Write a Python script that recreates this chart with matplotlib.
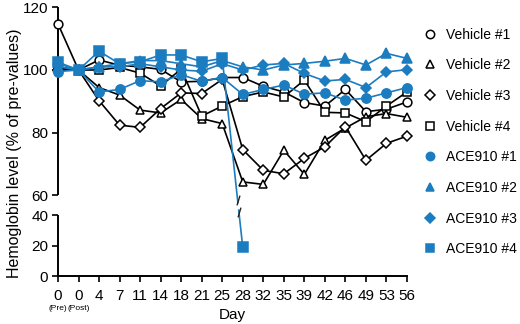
import numpy as np
import matplotlib
matplotlib.use("Agg")
import matplotlib.pyplot as plt
from matplotlib.legend_handler import HandlerLine2D

plt.rcParams['font.family'] = ['Liberation Sans', 'DejaVu Sans']

# ---- data ----
day_labels = ["0", "0", "4", "7", "11", "14", "18", "21", "25", "28",
              "32", "35", "39", "42", "46", "49", "53", "56"]
sub_labels = ["(Pre)", "(Post)"]

vehicle1 = [114.7, 100, 103.2, 101.5, 101.0, 100.2, 96.2, 96.4, 97.6, 97.6,
            94.8, 93.0, 89.6, 88.5, 93.8, 86.7, 87.5, 89.8]
vehicle2 = [101.0, 100, 94.4, 92.0, 87.2, 86.3, 90.6, 84.5, 82.9, 64.3,
            63.5, 74.4, 66.7, 77.6, 81.5, 85.1, 86.1, 84.9]
vehicle3 = [100.0, 100, 90.2, 82.4, 81.7, 87.7, 92.7, 92.5, 97.0, 74.6,
            68.0, 66.9, 71.8, 75.5, 81.9, 71.2, 76.6, 78.9]
vehicle4 = [100.5, 100, 100.0, 100.8, 99.0, 94.9, 100.3, 85.3, 88.5, 91.5,
            93.0, 91.4, 96.8, 86.5, 86.3, 83.5, 88.5, 93.0]
ace1 = [99.5, 100, 93.0, 93.8, 96.6, 96.2, 98.5, 96.4, 97.6, 92.2,
        93.8, 95.2, 92.3, 92.7, 90.4, 91.0, 92.7, 94.4]
ace2 = [101.0, 100, 101.0, 102.0, 103.0, 103.0, 102.0, 101.0, 103.0, 101.0,
        100.0, 101.6, 102.1, 102.8, 103.7, 101.6, 105.3, 103.7]
ace3 = [102.0, 100, 101.0, 101.0, 102.0, 101.0, 100.0, 99.6, 102.0, 100.0,
        101.6, 102.1, 98.9, 96.5, 97.0, 94.4, 99.4, 100.1]
ace4 = [102.5, 100, 106.0, 102.0, 102.6, 104.8, 104.8, 102.6, 103.7, 18.8]

series_labels = ["Vehicle #1", "Vehicle #2", "Vehicle #3", "Vehicle #4",
                 "ACE910 #1", "ACE910 #2", "ACE910 #3", "ACE910 #4"]

BLUE = '#1c7cc0'

# ---- broken y scale (0-40 lower, 60-120 upper) ----
LOW_K = 1.525
GAP = 20.0
UP_K = 3.15
B0 = 40 * LOW_K
B1 = B0 + GAP


def fwd(y):
    y = np.asarray(y, dtype=float)
    return np.where(y <= 40, y * LOW_K,
                    np.where(y < 60, B0 + (y - 40) * (GAP / 20.0),
                             B1 + (y - 60) * UP_K))


def inv(v):
    v = np.asarray(v, dtype=float)
    return np.where(v <= B0, v / LOW_K,
                    np.where(v < B1, 40 + (v - B0) * (20.0 / GAP),
                             60 + (v - B1) / UP_K))


fig = plt.figure(figsize=(5.2, 3.24), dpi=100)
ax = fig.add_axes([58 / 520, 48 / 324, (407 - 58) / 520, (276 - 7.3) / 324])
ax.set_yscale('function', functions=(fwd, inv))
ax.set_ylim(0, 120)
ax.set_xlim(0, len(day_labels) - 1)

x = np.arange(len(day_labels))
ms = 6.3
common = dict(lw=1.2, clip_on=False, markeredgewidth=1.1)

vstyles = [('o', vehicle1), ('^', vehicle2), ('D', vehicle3), ('s', vehicle4)]
for (m, data), lab in zip(vstyles, series_labels[:4]):
    size = ms - 1.2 if m == 'D' else ms
    ax.plot(x[:len(data)], data, color='black', marker=m, markersize=size,
            markerfacecolor='white', markeredgecolor='black', label=lab, zorder=3,
            **common)

astyles = [('o', ace1), ('^', ace2), ('D', ace3), ('s', ace4)]
for (m, data), lab in zip(astyles, series_labels[4:]):
    size = ms - 1.2 if m == 'D' else ms + 0.4
    ax.plot(x[:len(data)], data, color=BLUE, marker=m, markersize=size,
            markerfacecolor=BLUE, markeredgecolor=BLUE, label=lab, zorder=4,
            **common)

# break mark on ACE910 #4 drop line
i0 = len(ace4) - 2
s0, s1 = float(fwd(ace4[i0])), float(fwd(ace4[i0 + 1]))


def pt_at(yval):
    t = (s0 - float(fwd(yval))) / (s0 - s1)
    return i0 + t, yval


ga = pt_at(52.0)
gb = pt_at(46.0)
ax.plot([ga[0], gb[0]], [ga[1], gb[1]], color='white', lw=3, zorder=5,
        solid_capstyle='butt')
slash = [(-0.3, -1), (0.3, 1)]
for p in (pt_at(55.0), pt_at(43.0)):
    ax.plot([p[0]], [p[1]], marker=slash, markersize=7, color='#222222',
            markeredgewidth=1.0, linestyle='none', zorder=6)

# axes styling
for sp in ['top', 'right', 'left']:
    ax.spines[sp].set_visible(False)
ax.spines['bottom'].set_linewidth(1.4)
ytr = ax.get_yaxis_transform()
ax.plot([0, 0], [0, 40], transform=ytr, color='black', lw=1.4, clip_on=False,
        solid_capstyle='butt', zorder=2)
ax.plot([0, 0], [60, 120], transform=ytr, color='black', lw=1.4, clip_on=False,
        solid_capstyle='butt', zorder=2)

ax.set_yticks([0, 20, 40, 60, 80, 100, 120])
ax.set_yticklabels(["0", "20", "40", "60", "80", "100", "120"])
ax.set_xticks(x)
ax.set_xticklabels(day_labels)
ax.tick_params(axis='both', direction='out', length=4, width=1.2,
               labelsize=11, colors='black', pad=3)
ax.tick_params(axis='x', pad=5)
ax.minorticks_off()

for i, s in enumerate(sub_labels):
    ax.annotate(s, xy=(i, 0), xycoords=('data', 'axes fraction'),
                xytext=(0, -23.5), textcoords='offset points',
                ha='center', va='center', fontsize=6)

ax.set_xlabel("Day", fontsize=11)
ax.xaxis.set_label_coords(0.5, -0.118)
ax.set_ylabel("Hemoglobin level (% of pre-values)", fontsize=11.5)
ax.yaxis.set_label_coords(-0.103, 0.457)


def leg_update(legend_handle, orig_handle):
    legend_handle.update_from(orig_handle)
    legend_handle.set_linestyle('none')
    mk = orig_handle.get_marker()
    legend_handle.set_markersize(4.6 if mk == 'D' else 6)


handler = HandlerLine2D(update_func=leg_update)
leg = ax.legend(loc='upper left', bbox_to_anchor=(420 / 520, 1 - 22 / 324),
                bbox_transform=fig.transFigure, frameon=False, fontsize=10,
                handlelength=0.6, handletextpad=0.9, labelspacing=1.2,
                borderaxespad=0, numpoints=1,
                handler_map={type(ax.lines[0]): handler})

fig.savefig("out.png", dpi=100)
